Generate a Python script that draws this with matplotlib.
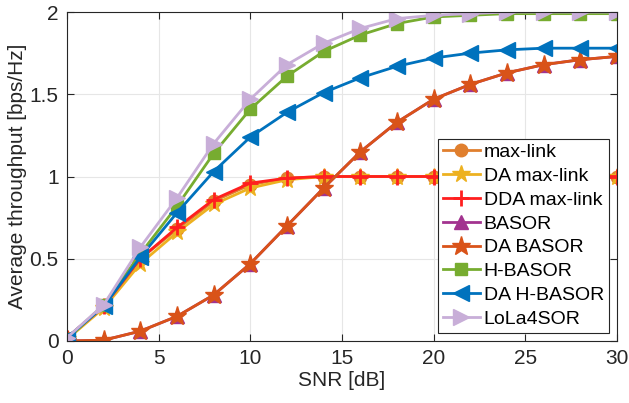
import matplotlib
matplotlib.use('Agg')
import matplotlib.pyplot as plt

plt.rcParams['font.family'] = ['Liberation Sans', 'DejaVu Sans']

snr = [0, 2, 4, 6, 8, 10, 12, 14, 16, 18, 20, 22, 24, 26, 28, 30]

max_link = [0.02, 0.21, 0.50, 0.68, 0.85, 0.95, 0.99, 1.00, 1.00, 1.00, 1.00, 1.00, 1.00, 1.00, 1.00, 1.00]
da_max_link = [0.01, 0.20, 0.47, 0.66, 0.83, 0.93, 0.98, 1.00, 1.00, 1.00, 1.00, 1.00, 1.00, 1.00, 1.00, 1.00]
dda_max_link = [0.02, 0.21, 0.50, 0.69, 0.86, 0.96, 0.99, 1.00, 1.00, 1.00, 1.00, 1.00, 1.00, 1.00, 1.00, 1.00]
basor = [0.00, 0.005, 0.06, 0.15, 0.28, 0.47, 0.70, 0.93, 1.15, 1.33, 1.47, 1.56, 1.63, 1.68, 1.71, 1.73]
da_basor = [0.00, 0.005, 0.06, 0.15, 0.28, 0.47, 0.70, 0.93, 1.15, 1.33, 1.47, 1.56, 1.63, 1.68, 1.71, 1.73]
h_basor = [0.01, 0.22, 0.53, 0.82, 1.14, 1.41, 1.61, 1.76, 1.86, 1.93, 1.97, 1.98, 1.99, 1.99, 1.99, 1.99]
da_h_basor = [0.02, 0.21, 0.51, 0.78, 1.03, 1.24, 1.39, 1.51, 1.60, 1.67, 1.72, 1.75, 1.77, 1.78, 1.78, 1.78]
lola4sor = [0.02, 0.22, 0.57, 0.87, 1.20, 1.47, 1.68, 1.81, 1.90, 1.96, 1.98, 1.99, 2.00, 2.00, 2.00, 2.00]

series = [
    ('max-link', max_link, '#E07F2E', 'o', 9),
    ('DA max-link', da_max_link, '#EDB120', '*', 13),
    ('DDA max-link', dda_max_link, '#FF1F1F', '+', 11),
    ('BASOR', basor, '#A2338F', '^', 10),
    ('DA BASOR', da_basor, '#D95319', '*', 14),
    ('H-BASOR', h_basor, '#77AC30', 's', 9),
    ('DA H-BASOR', da_h_basor, '#0072BD', '<', 11),
    ('LoLa4SOR', lola4sor, '#C8AED8', '>', 11),
]

fig = plt.figure(figsize=(6.29, 4.03), dpi=100)
ax = fig.add_axes([67 / 629, 62 / 403, 550 / 629, 329 / 403])

for name, vals, col, mk, ms in series:
    mew = 2 if mk == '+' else 1
    ax.plot(snr, vals, color=col, marker=mk, markersize=ms, linewidth=2,
            markeredgewidth=mew, label=name)

ax.set_xlim(0, 30)
ax.set_ylim(0, 2)
ax.set_xticks([0, 5, 10, 15, 20, 25, 30])
ax.set_yticks([0, 0.5, 1, 1.5, 2])
ax.set_yticklabels(['0', '0.5', '1', '1.5', '2'])
ax.grid(True, color='#E6E6E6', linewidth=0.8)
ax.set_axisbelow(True)
for s in ax.spines.values():
    s.set_color('#262626')
    s.set_linewidth(0.8)
ax.tick_params(direction='in', labelsize=15, colors='#262626', length=5, top=True, right=True, pad=6)
ax.set_xlabel('SNR [dB]', fontsize=15, color='#262626', labelpad=2)
ax.set_ylabel('Average throughput [bps/Hz]', fontsize=15, color='#262626', labelpad=2)

leg = ax.legend(loc='lower right', bbox_to_anchor=(0.985, 0.025), fontsize=14, frameon=True,
                fancybox=False, edgecolor='#262626', handlelength=1.9, handletextpad=0.2,
                borderpad=0.25, labelspacing=0.32, borderaxespad=0, framealpha=1)
leg.get_frame().set_linewidth(0.8)

fig.savefig('out.png', dpi=100)
